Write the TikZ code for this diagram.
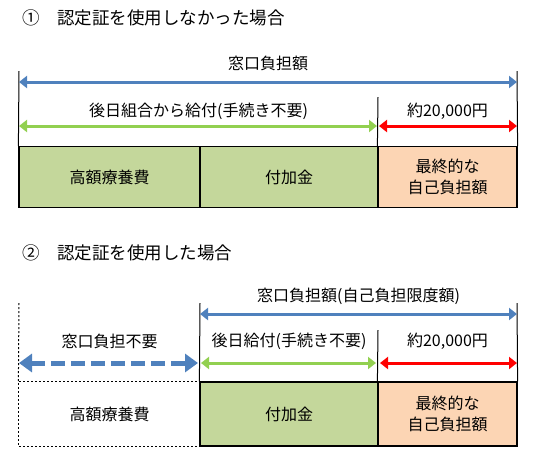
\documentclass[tikz,border=0pt]{standalone}
\usepackage{fontspec}
\setmainfont{Noto Sans CJK JP}
\definecolor{kgBlue}{HTML}{4F81BD}
\definecolor{kgGreen}{HTML}{92D050}
\definecolor{kgRed}{HTML}{FF0000}
\definecolor{kgOlive}{HTML}{C4D79B}
\definecolor{kgPeach}{HTML}{FCD5B4}
\usetikzlibrary{arrows.meta}

\begin{document}
\begin{tikzpicture}[x=1pt,y=-1pt,
                    >={Triangle[width=12pt,length=8pt]},
                    title/.style={anchor=west,inner sep=0pt,font=\fontsize{17.5}{20}\selectfont},
                    txt/.style={inner sep=0pt,align=center,font=\fontsize{16}{21}\selectfont},
                    cell/.style={draw=black,line width=1.2pt,txt,minimum height=61pt},
                    span/.style={line width=3pt,<->},
                    edge/.style={draw=black,line width=1pt}]
  \useasboundingbox (0,0) rectangle (538,459);

  % case 1
  \node[title] (t1) at (22,18) {①\hspace{1em}認定証を使用しなかった場合};
  \coordinate (aL) at (19,71);  \coordinate (aR) at (517,71);  \coordinate (aM) at (378,97);
  \node[cell,fill=kgOlive,minimum width=181pt] (a1) at (109.5,177) {高額療養費};
  \node[cell,fill=kgOlive,minimum width=178pt] (a2) at (289,177) {付加金};
  \node[cell,fill=kgPeach,minimum width=139pt] (a3) at (447.5,177) {最終的な\\自己負担額};
  \draw[edge] (aL) -- (a1.north west);
  \draw[edge] (aR) -- (a3.north east);
  \draw[edge] (aM) -- (a3.north west);
  \node[txt] (aTotal) at (268,63) {窓口負担額};
  \draw[span,kgBlue] (19,82) coordinate (aB1) -- (517,82) coordinate (aB2);
  \node[txt] (aBack) at (198.5,111) {後日組合から給付(手続き不要)};
  \node[txt] (aOwn) at (447.5,111) {約20,000円};
  \draw[span,kgGreen] (19,126) coordinate (aG1) -- (377,126) coordinate (aG2);
  \draw[span,kgRed] (379,126) coordinate (aR1) -- (517,126) coordinate (aR2);

  % case 2
  \node[title] (t2) at (22,253) {②\hspace{1em}認定証を使用した場合};
  \coordinate (bL) at (19,303);  \coordinate (bC) at (200,303);
  \coordinate (bR) at (517,303); \coordinate (bM) at (378,330);
  \node[cell,draw=none,minimum width=181pt,minimum height=64pt] (b1) at (109.5,414) {高額療養費};
  \draw[line width=1.2pt,dash pattern=on 2pt off 2pt] (b1.north east) -- (b1.north west) -- (b1.south west) -- (b1.south east);
  \node[cell,fill=kgOlive,minimum width=178pt,minimum height=64pt] (b2) at (289,414) {付加金};
  \node[cell,fill=kgPeach,minimum width=139pt,minimum height=64pt] (b3) at (447.5,414) {最終的な\\自己負担額};
  \draw[edge,dash pattern=on 2pt off 2pt] (bL) -- (b1.north west);
  \draw[edge] (bC) -- (b2.north west);
  \draw[edge] (bR) -- (b3.north east);
  \draw[edge] (bM) -- (b3.north west);
  \node[txt] (bTotal) at (358.5,296) {窓口負担額(自己負担限度額)};
  \draw[span,kgBlue] (200,314) coordinate (bB1) -- (517,314) coordinate (bB2);
  \node[txt] (bFree) at (109.5,341) {窓口負担不要};
  \node[txt] (bBack) at (289,341) {後日給付(手続き不要)};
  \node[txt] (bOwn) at (447.5,341) {約20,000円};
  \draw[kgBlue,line width=5pt,dash pattern=on 14pt off 6pt,
        {Triangle[width=18pt,length=13pt]}-{Triangle[width=18pt,length=13pt]}]
        (19,363) coordinate (bD1) -- (198,363) coordinate (bD2);
  \draw[span,kgGreen] (201,363) coordinate (bG1) -- (376,363) coordinate (bG2);
  \draw[span,kgRed] (380,363) coordinate (bR1) -- (517,363) coordinate (bR2);
\end{tikzpicture}
\end{document}
